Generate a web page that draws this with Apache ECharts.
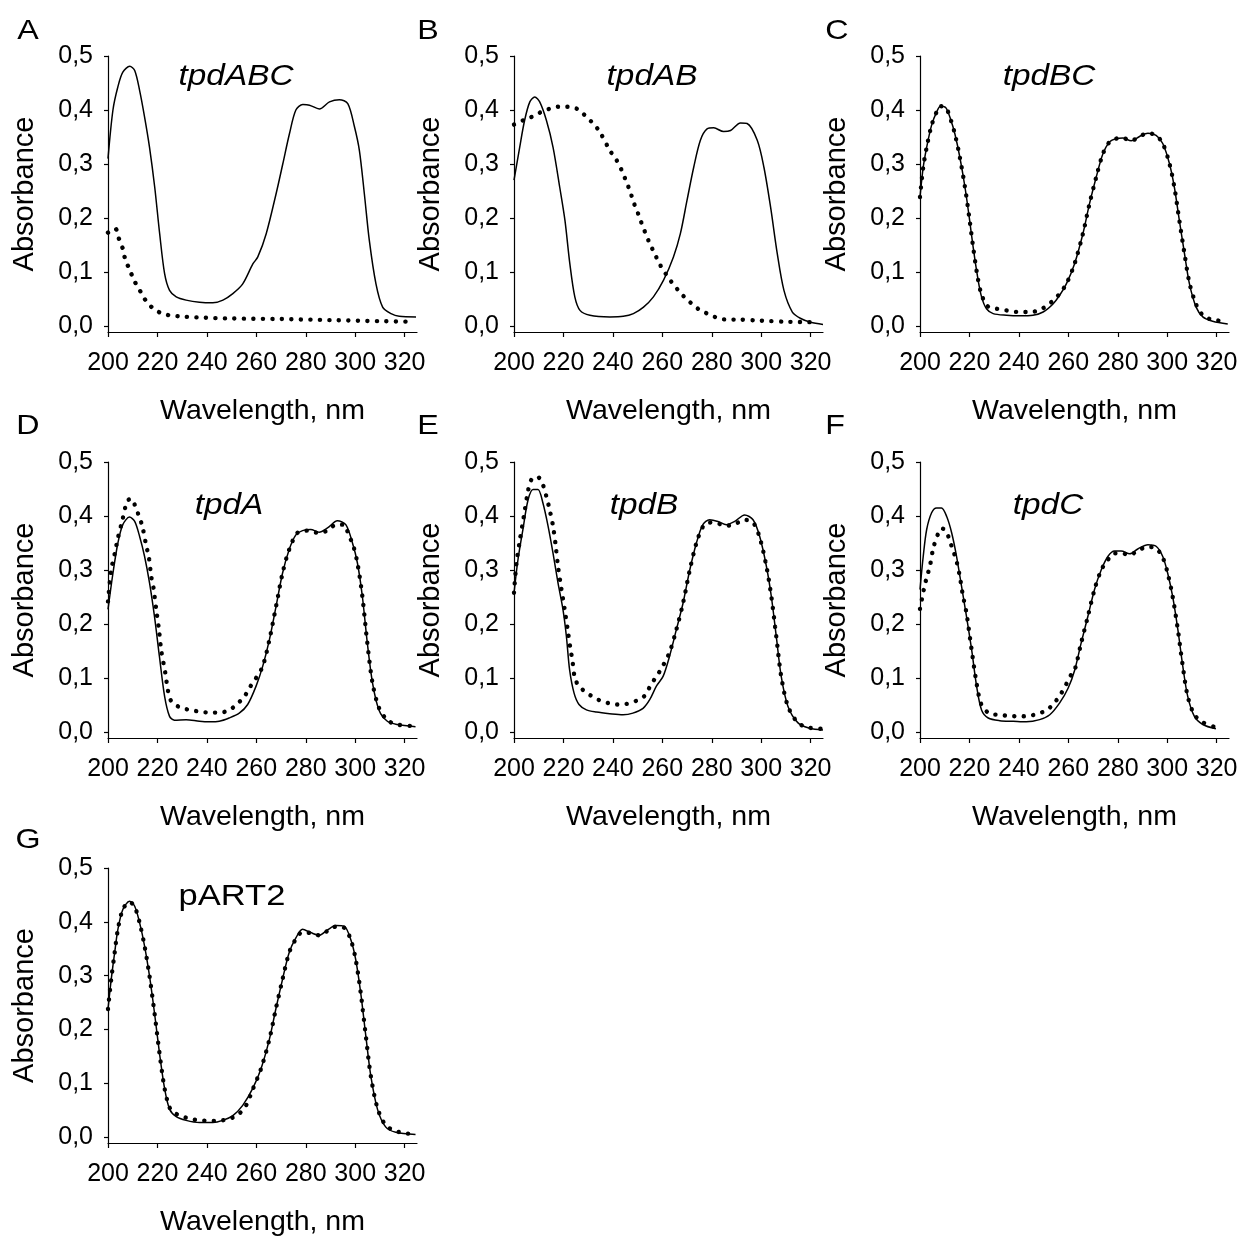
<!DOCTYPE html>
<html><head><meta charset="utf-8">
<script src="https://cdn.jsdelivr.net/npm/echarts@6/dist/echarts.min.js"></script>
<style>html,body{margin:0;padding:0;background:#fff}#c{width:1242px;height:1238px}</style>
</head><body><div id="c"></div>
<script>
// ---------- data ----------
const xTicks = [200, 220, 240, 260, 280, 300, 320];
const yTicks = [0, 0.1, 0.2, 0.3, 0.4, 0.5];
const panelLetters = ['A', 'B', 'C', 'D', 'E', 'F', 'G'];
const panelNames = ['tpdABC', 'tpdAB', 'tpdBC', 'tpdA', 'tpdB', 'tpdC', 'pART2'];
const xTitle = 'Wavelength, nm';
const yTitle = 'Absorbance';

const aSolid = [[200,0.31],[202,0.40],[204,0.443],[206,0.47],[208.8,0.481],[210.8,0.473],[212.8,0.436],[214.8,0.387],[216.8,0.331],[218.9,0.257],[220.9,0.171],[222.9,0.097],[224.9,0.066],[227.6,0.054],[231.6,0.048],[237,0.044],[242.4,0.043],[246.5,0.048],[250.5,0.06],[254.5,0.078],[258.6,0.115],[260.6,0.128],[264,0.171],[268,0.245],[270.7,0.30],[273.4,0.356],[276,0.40],[278.8,0.41],[281.5,0.409],[285.5,0.402],[289.6,0.415],[293.6,0.419],[297,0.412],[299.7,0.369],[301.7,0.325],[303.7,0.245],[305.7,0.159],[308.4,0.078],[311.1,0.035],[314.5,0.023],[317.8,0.018],[324.6,0.017]];
const aDotted = [[200,0.173],[203,0.18],[204.4,0.162],[206,0.143],[207,0.123],[208.8,0.104],[210.5,0.085],[213,0.065],[215,0.049],[217.9,0.034],[221,0.025],[224.6,0.020],[229,0.018],[236,0.016],[250,0.014],[270,0.013],[290,0.011],[310,0.009],[323,0.008]];

const bSolid = [[200,0.27],[202.3,0.331],[204.3,0.381],[206.4,0.415],[208.4,0.424],[210.4,0.415],[213.1,0.381],[215.8,0.331],[218.5,0.257],[220.6,0.196],[222.6,0.115],[224.6,0.054],[226.7,0.029],[230.7,0.020],[238.8,0.017],[244.2,0.018],[248.3,0.023],[252.4,0.035],[256.4,0.054],[260.5,0.085],[264.5,0.128],[267.3,0.171],[270,0.233],[272.7,0.294],[275.4,0.344],[278.1,0.365],[280.8,0.367],[284.8,0.360],[287.6,0.362],[291.6,0.376],[294.3,0.375],[298.4,0.344],[301.1,0.294],[303.8,0.22],[306.5,0.134],[309.2,0.066],[312.6,0.026],[316,0.014],[320,0.007],[325,0.003]];
const bDotted = [[200,0.373],[203.7,0.381],[207,0.387],[210.4,0.395],[214.2,0.402],[217.9,0.406],[221.7,0.406],[225.6,0.402],[228.7,0.39],[231.8,0.376],[234.5,0.361],[238.8,0.325],[241.5,0.307],[243.6,0.288],[245.3,0.269],[247,0.249],[248.3,0.230],[249.9,0.212],[251.4,0.193],[253,0.174],[254.8,0.154],[256.8,0.135],[258.9,0.115],[261.2,0.098],[263.5,0.083],[266.3,0.067],[269.3,0.052],[272.3,0.040],[275.4,0.029],[278.8,0.022],[282.4,0.015],[286.2,0.012],[290.3,0.012],[300,0.010],[310,0.008],[322.7,0.007]];

const cSolid = [[200,0.239],[201.3,0.294],[202.7,0.331],[204.7,0.372],[206.7,0.396],[208.3,0.407],[210.5,0.404],[212.5,0.381],[214.1,0.356],[216.1,0.313],[218.2,0.257],[219.9,0.202],[221.5,0.146],[223.3,0.091],[224.9,0.054],[226.9,0.032],[229.6,0.023],[235,0.020],[240.4,0.019],[245.7,0.020],[249.8,0.026],[253.8,0.041],[256.5,0.057],[259.2,0.078],[262.5,0.115],[265.9,0.171],[268.6,0.227],[271.3,0.276],[274,0.319],[276.7,0.341],[279.4,0.347],[282.1,0.348],[285.4,0.343],[288.8,0.351],[292.2,0.357],[295.5,0.353],[298.2,0.338],[300.9,0.301],[302.9,0.257],[304.9,0.196],[307,0.134],[309,0.078],[311.7,0.035],[314.4,0.017],[318.4,0.009],[324.5,0.004]];
const cDotted = [[200,0.239],[201.3,0.294],[202.7,0.331],[204.7,0.372],[206.7,0.396],[208.3,0.407],[210.5,0.404],[212.5,0.381],[214.1,0.356],[216.1,0.313],[218.2,0.257],[219.9,0.202],[221.5,0.146],[223.3,0.091],[224.9,0.058],[227.3,0.037],[230,0.033],[235,0.029],[240,0.026],[244.5,0.026],[248.5,0.030],[252,0.040],[254.5,0.05],[256.5,0.06],[259.2,0.078],[262.5,0.115],[265.9,0.171],[268.6,0.227],[271.3,0.276],[274,0.319],[276.7,0.341],[279.4,0.347],[282.1,0.348],[285.4,0.343],[288.8,0.351],[292.2,0.357],[295.5,0.353],[298.2,0.338],[300.9,0.301],[302.9,0.257],[304.9,0.196],[307,0.134],[309,0.08],[311.7,0.04],[314.4,0.02],[318,0.012],[324,0.009]];

const dSolid = [[200,0.227],[202,0.294],[204,0.35],[206,0.384],[208.7,0.398],[210.8,0.39],[212.8,0.362],[214.8,0.325],[216.8,0.276],[218.8,0.214],[220.8,0.14],[222.9,0.066],[224.9,0.029],[226.9,0.022],[231.6,0.023],[237,0.020],[241,0.019],[245,0.020],[249,0.026],[253.1,0.035],[256.5,0.051],[259.9,0.085],[262.6,0.122],[265.3,0.171],[268,0.233],[270.6,0.294],[273.3,0.338],[276,0.365],[278.7,0.373],[282,0.375],[285.4,0.370],[288.8,0.378],[292.8,0.391],[296.2,0.384],[298.9,0.35],[300.9,0.313],[302.9,0.251],[304.9,0.165],[307,0.091],[309.6,0.041],[313,0.020],[317,0.014],[324.4,0.010]];
const dDotted = [[200,0.242],[201.3,0.30],[202.7,0.33],[204,0.359],[205.7,0.39],[207.8,0.428],[209.5,0.432],[210.8,0.421],[212.5,0.40],[213.9,0.381],[215.5,0.344],[216.5,0.325],[217.5,0.288],[218.4,0.267],[219.5,0.227],[220.6,0.19],[221.5,0.152],[223.2,0.109],[224.2,0.078],[225.6,0.057],[229,0.046],[233,0.041],[237,0.038],[241,0.036],[245,0.036],[248.8,0.040],[252,0.051],[255.2,0.066],[257.4,0.083],[259.9,0.10],[262.6,0.122],[265.3,0.171],[268,0.233],[270.6,0.294],[273.3,0.338],[276.7,0.369],[280.7,0.373],[284.8,0.369],[288.8,0.373],[292.2,0.384],[295.5,0.384],[297.5,0.362],[298.9,0.35],[300.9,0.313],[302.9,0.251],[304.9,0.165],[307,0.091],[309.6,0.045],[313,0.022],[317,0.014],[324,0.011]];

const eSolid = [[200,0.257],[201.6,0.319],[203.6,0.375],[205.7,0.43],[207.7,0.449],[209.7,0.449],[211.7,0.424],[213.8,0.381],[215.8,0.331],[217.8,0.276],[219.8,0.227],[221.2,0.177],[222.5,0.115],[224.3,0.072],[226.3,0.051],[229.3,0.041],[233.3,0.037],[238.7,0.034],[244.1,0.032],[248.1,0.035],[252.2,0.044],[254.9,0.060],[257.6,0.085],[260.3,0.103],[262.9,0.14],[265.7,0.19],[268.4,0.239],[271.1,0.30],[273.8,0.35],[276.4,0.384],[279.1,0.393],[282.5,0.39],[285.9,0.384],[289.3,0.39],[293.3,0.402],[296.7,0.393],[299.4,0.362],[302.1,0.307],[304.1,0.251],[306.1,0.177],[308.1,0.103],[310.8,0.048],[314.9,0.017],[319.6,0.007],[325,0.004]];
const eDotted = [[200,0.258],[201,0.313],[202.3,0.353],[204,0.40],[205.7,0.447],[207,0.467],[209.4,0.473],[211.5,0.46],[213.1,0.436],[214.4,0.412],[215.8,0.381],[216.9,0.344],[217.8,0.307],[219.1,0.267],[220.5,0.227],[221.6,0.193],[222.9,0.152],[223.6,0.134],[224.8,0.097],[227.2,0.081],[230.6,0.069],[234,0.060],[237.8,0.054],[241.7,0.051],[245.4,0.052],[249.5,0.058],[252.8,0.067],[255.1,0.085],[257.3,0.101],[259.6,0.117],[261.6,0.135],[263,0.148],[265.7,0.19],[268.4,0.239],[271.1,0.30],[273.8,0.35],[276.4,0.380],[279.1,0.388],[282.5,0.386],[285.9,0.382],[289.3,0.385],[293.3,0.393],[296.7,0.388],[299.4,0.36],[302.1,0.307],[304.1,0.251],[306.1,0.177],[308.1,0.103],[310.8,0.048],[314.9,0.017],[319.6,0.008],[325,0.006]];

const fSolid = [[200,0.264],[201.3,0.325],[202.7,0.375],[204.7,0.406],[206.7,0.415],[208.7,0.415],[210.8,0.399],[212.8,0.369],[214.8,0.325],[216.8,0.27],[218.8,0.214],[220.9,0.152],[222.9,0.085],[224.9,0.041],[227.6,0.026],[232.3,0.021],[237.7,0.020],[243,0.019],[248.4,0.023],[252.5,0.032],[256.5,0.054],[259.9,0.081],[262.6,0.115],[265.2,0.165],[267.9,0.214],[270.6,0.264],[273.3,0.30],[276,0.325],[278.7,0.335],[281.4,0.335],[284.8,0.33],[288.1,0.339],[292.2,0.347],[295.5,0.344],[298.2,0.325],[300.2,0.294],[302.2,0.251],[304.3,0.19],[306.3,0.122],[308.3,0.066],[311,0.029],[314.4,0.014],[319.7,0.006]];
const fDotted = [[200,0.228],[200.8,0.247],[201.7,0.267],[202.7,0.286],[204,0.307],[205.4,0.341],[207.4,0.368],[208.8,0.377],[210.5,0.373],[212.1,0.353],[213.5,0.335],[214.8,0.316],[216.1,0.288],[217.2,0.257],[218.8,0.22],[220.9,0.152],[222.9,0.09],[224.9,0.05],[228.3,0.034],[231.9,0.032],[235.9,0.030],[240,0.029],[244.1,0.030],[247.8,0.034],[251.4,0.041],[254.5,0.055],[256.9,0.070],[259.2,0.089],[261.5,0.109],[262.6,0.115],[265.2,0.165],[267.9,0.214],[270.6,0.264],[273.3,0.30],[276,0.319],[278.7,0.331],[281.4,0.331],[284.8,0.328],[288.1,0.336],[292.2,0.343],[295.5,0.340],[298.2,0.323],[300.2,0.294],[302.2,0.251],[304.3,0.19],[306.3,0.122],[308.3,0.066],[311,0.032],[314.4,0.018],[318.8,0.010]];

const gSolid = [[200,0.238],[201.3,0.293],[202.7,0.343],[204,0.386],[206,0.423],[208.7,0.438],[210.8,0.429],[212.8,0.398],[214.8,0.355],[216.8,0.299],[218.8,0.231],[220.8,0.157],[222.9,0.090],[224.9,0.052],[227.6,0.038],[231.6,0.031],[237,0.027],[242.4,0.027],[246.4,0.031],[250.5,0.040],[254.5,0.059],[258.5,0.090],[261.9,0.127],[265.3,0.182],[267.9,0.238],[270.6,0.293],[273.3,0.343],[276,0.370],[278.7,0.386],[282,0.380],[285.4,0.375],[288.8,0.385],[292.2,0.393],[295.5,0.392],[298.2,0.367],[300.2,0.330],[302.2,0.269],[304.3,0.188],[306.3,0.114],[309,0.052],[312.3,0.019],[316.4,0.009],[324.4,0.005]];
const gDotted = [[200,0.238],[201.3,0.293],[202.7,0.343],[204,0.386],[206,0.423],[208.7,0.437],[210.8,0.428],[212.8,0.398],[214.8,0.355],[216.8,0.299],[218.8,0.231],[220.8,0.157],[222.9,0.090],[224.9,0.055],[226.9,0.045],[230.3,0.038],[234.1,0.033],[238,0.031],[242,0.030],[246,0.031],[249.8,0.035],[253.2,0.044],[256,0.06],[258.5,0.088],[261.9,0.127],[265.3,0.182],[267.9,0.238],[270.6,0.293],[273.3,0.343],[276,0.368],[278.7,0.381],[282,0.379],[285.4,0.375],[288.8,0.383],[292.2,0.391],[295.5,0.389],[298.2,0.367],[300.2,0.330],[302.2,0.269],[304.3,0.188],[306.3,0.114],[309,0.054],[312.3,0.022],[316,0.012],[320,0.007],[324,0.006]];

const solidSeries = [aSolid, bSolid, cSolid, dSolid, eSolid, fSolid, gSolid];
const dottedSeries = [aDotted, bDotted, cDotted, dDotted, eDotted, fDotted, gDotted];

// ---------- layout ----------
const gridPos = [[108,56],[514,56],[920,56],[108,462],[514,462],[920,462],[108,868]];
const letterPos = [[28,31],[428,31],[837,31],[28,426],[428,426],[835,426],[28,840]];
const namePos = [[236,77],[652,77],[1049,77],[229,506],[644,506],[1048,506],[232,897]];
const nameItalic = [true,true,true,true,true,true,false];
const FONT = 'Liberation Sans';
const STRETCH = 1.15;

const grids = [], xAxes = [], yAxes = [], series = [], graphics = [];
for (let i = 0; i < 7; i++) {
  grids.push({left: gridPos[i][0], top: gridPos[i][1], width: 309, height: 276, containLabel: false});
  xAxes.push({
    type: 'value', gridIndex: i, min: 200, max: 325,
    axisLine: {onZero: false, lineStyle: {color: '#000', width: 1.2}},
    axisTick: {customValues: xTicks, length: 5, lineStyle: {color: '#000', width: 1.2}},
    axisLabel: {customValues: xTicks, fontSize: 25, fontFamily: FONT, color: '#000', margin: 19},
    splitLine: {show: false},
    name: xTitle, nameLocation: 'middle', nameGap: 65,
    nameTextStyle: {fontSize: 28.5, fontFamily: FONT, color: '#000'}
  });
  yAxes.push({
    type: 'value', gridIndex: i, min: -0.011, max: 0.5,
    axisLine: {onZero: false, lineStyle: {color: '#000', width: 1.2}},
    axisTick: {customValues: yTicks, length: 4, lineStyle: {color: '#000', width: 1.2}},
    axisLabel: {customValues: yTicks, fontSize: 25, fontFamily: FONT, color: '#000', margin: 15,
      formatter: v => v.toFixed(1).replace('.', ',')},
    splitLine: {show: false},
    name: yTitle, nameLocation: 'middle', nameGap: 69,
    nameTextStyle: {fontSize: 29, fontFamily: FONT, color: '#000'}
  });
  series.push({
    type: 'line', name: panelNames[i] + ' dotted', xAxisIndex: i, yAxisIndex: i,
    data: dottedSeries[i], showSymbol: false, symbol: 'none', smooth: 0.3,
    lineStyle: {color: '#000', width: 4.4, type: [0.1, 9.4], cap: 'round'}, z: 2
  });
  series.push({
    type: 'line', name: panelNames[i], xAxisIndex: i, yAxisIndex: i,
    data: solidSeries[i], showSymbol: false, symbol: 'none', smooth: 0.3,
    lineStyle: {color: '#000', width: 1.5}, z: 3
  });
  graphics.push({type: 'text', x: letterPos[i][0], y: letterPos[i][1], scaleX: STRETCH,
    style: {text: panelLetters[i], font: '28px "' + FONT + '"', fill: '#000',
      align: 'center', verticalAlign: 'middle', textAlign: 'center', textVerticalAlign: 'middle'}});
  graphics.push({type: 'text', x: namePos[i][0], y: namePos[i][1], scaleX: STRETCH,
    style: {text: panelNames[i], font: (nameItalic[i] ? 'italic 29px' : '30px') + ' "' + FONT + '"', fill: '#000',
      align: 'center', verticalAlign: 'middle', textAlign: 'center', textVerticalAlign: 'middle'}});
}

const chart = echarts.init(document.getElementById('c'), null, {renderer: 'canvas'});
chart.setOption({
  animation: false,
  backgroundColor: '#fff',
  grid: grids, xAxis: xAxes, yAxis: yAxes, series: series,
  graphic: {elements: graphics}
});
</script></body></html>
